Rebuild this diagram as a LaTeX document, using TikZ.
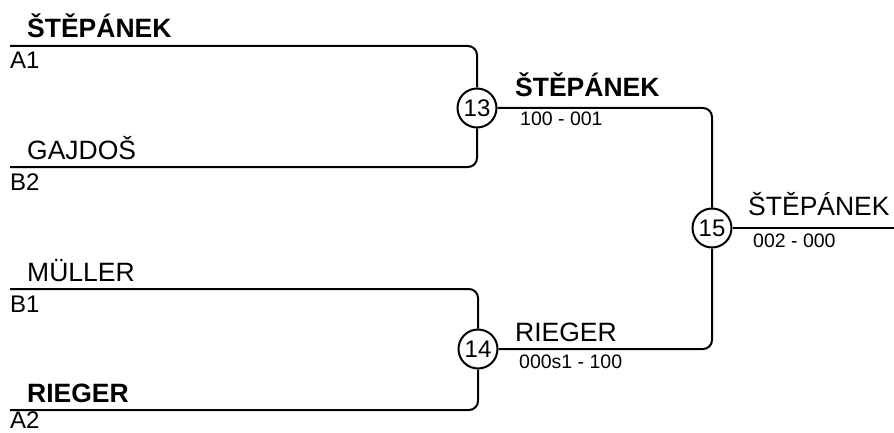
\documentclass[tikz,border=0pt]{standalone}
\usepackage{fontspec}
\setmainfont{Liberation Sans}
\tikzset{
    line/.style={line width=2pt,rounded corners=9pt},
    match/.style={circle,draw,line width=2pt,minimum size=39pt,inner sep=0pt,font=\fontsize{24}{24}\selectfont},
    player/.style={anchor=base west,inner sep=0pt,font=\fontsize{26.5}{26.5}\selectfont},
    winner/.style={player,font=\fontsize{26.5}{26.5}\selectfont\bfseries},
    seed/.style={anchor=base west,inner sep=0pt,font=\fontsize{24}{24}\selectfont},
    score/.style={anchor=base west,inner sep=0pt,font=\fontsize{19.5}{19.5}\selectfont},
}
\begin{document}
\begin{tikzpicture}[x=1pt,y=1pt]
        \useasboundingbox (0,0) rectangle (894,-433);
        %% matches
        \node[match] (m13) at (477,-108) {13};
        \node[match] (m14) at (478,-349) {14};
        \node[match] (m15) at (712,-228) {15};
        %% first round lines
        \coordinate (a1) at (10,-46);
        \coordinate (b2) at (10,-167);
        \coordinate (b1) at (10,-289);
        \coordinate (a2) at (10,-410);
        \coordinate (end) at (894,-228);
        \draw[line] (a1) -| (m13);
        \draw[line] (b2) -| (m13);
        \draw[line] (b1) -| (m14);
        \draw[line] (a2) -| (m14);
        \draw[line] (m13) -| (m15);
        \draw[line] (m14) -| (m15);
        \draw[line] (m15) -- (end);
        %% names and seeds
        \node[winner] (p1) at (27,-38) {ŠTĚPÁNEK};
        \node[seed] (s1) at (10,-69) {A1};
        \node[player] (p2) at (27,-159) {GAJDOŠ};
        \node[seed] (s2) at (10,-190) {B2};
        \node[player] (p3) at (27,-281) {MÜLLER};
        \node[seed] (s3) at (10,-312) {B1};
        \node[winner] (p4) at (27,-402) {RIEGER};
        \node[seed] (s4) at (10,-428) {A2};
        %% results
        \node[winner] (w13) at (515,-97) {ŠTĚPÁNEK};
        \node[score] (r13) at (520,-125) {100 - 001};
        \node[player] (w14) at (515,-341) {RIEGER};
        \node[score] (r14) at (519,-368) {000s1 - 100};
        \node[player] (w15) at (748,-215) {ŠTĚPÁNEK};
        \node[score] (r15) at (753,-247) {002 - 000};
\end{tikzpicture}
\end{document}
